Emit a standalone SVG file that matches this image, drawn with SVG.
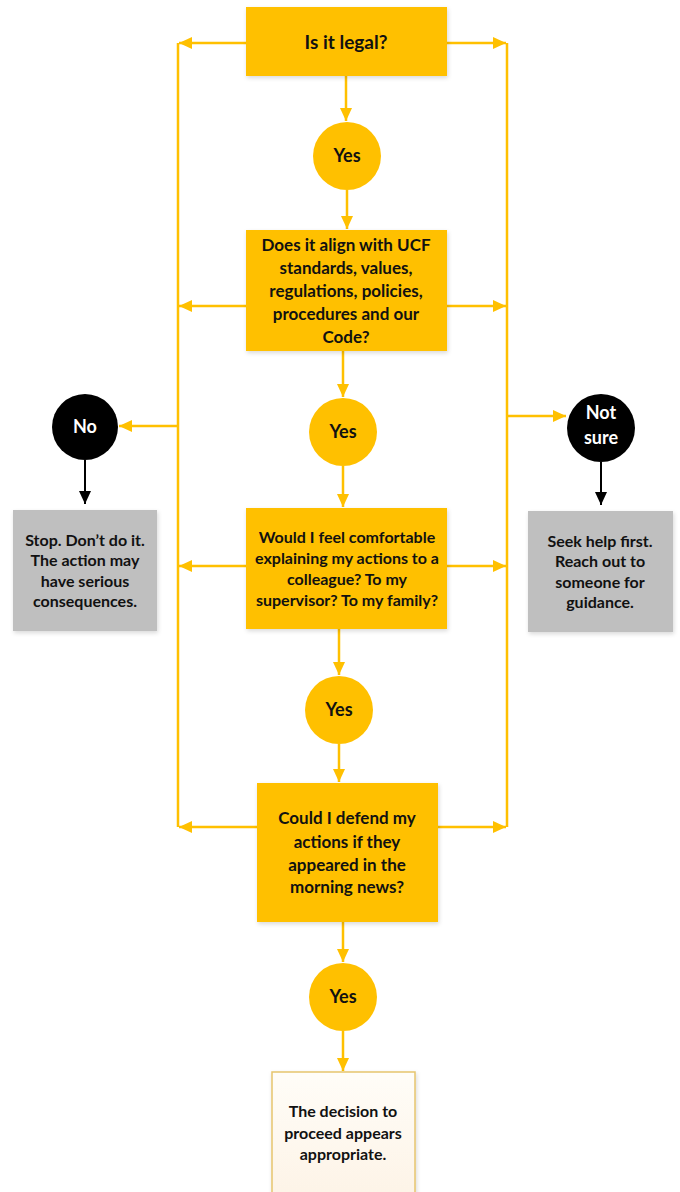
<svg xmlns="http://www.w3.org/2000/svg" width="680" height="1192" viewBox="0 0 680 1192">
<style>
.gold{fill:#FFC000}
.grey{fill:#BFBFBF}
.blk{fill:#000}
.t{font-family:Lato,"Open Sans","Liberation Sans",sans-serif;font-weight:bold;text-anchor:middle;fill:#111}
.q{font-size:17px}
.s{font-size:16px}
.h{font-size:19px}
.g{font-size:16px}
.c{font-size:18px}
.w{fill:#fff}
.ln{stroke:#FFC000;stroke-width:2.5;fill:none}
.bl{stroke:#000;stroke-width:2;fill:none}
</style>
<defs>
<marker id="ag" markerUnits="userSpaceOnUse" markerWidth="14" markerHeight="14" viewBox="0 0 14 14" refX="13" refY="7" orient="auto">
<path d="M0,1 L13,7 L0,13 Z" fill="#FFC000"/>
</marker>
<marker id="ab" markerUnits="userSpaceOnUse" markerWidth="14" markerHeight="14" viewBox="0 0 14 14" refX="13" refY="7" orient="auto">
<path d="M0,1 L13,7 L0,13 Z" fill="#000"/>
</marker>
<linearGradient id="cream" x1="0" y1="0" x2="0" y2="1">
<stop offset="0" stop-color="#FFFDF8"/>
<stop offset="1" stop-color="#FDF3E6"/>
</linearGradient>
<filter id="sh" x="-10%" y="-10%" width="125%" height="125%">
<feDropShadow dx="1" dy="2" stdDeviation="2" flood-color="#000" flood-opacity="0.15"/>
</filter>
</defs>
<rect width="680" height="1192" fill="#fff"/>

<g id="connectors">
<line class="ln" x1="178" y1="43" x2="178" y2="827"/>
<line class="ln" x1="507" y1="43" x2="507" y2="827"/>
<line class="ln" x1="246" y1="43" x2="179" y2="43" marker-end="url(#ag)"/>
<line class="ln" x1="447" y1="43" x2="506" y2="43" marker-end="url(#ag)"/>
<line class="ln" x1="246" y1="306" x2="179" y2="306" marker-end="url(#ag)"/>
<line class="ln" x1="447" y1="306" x2="506" y2="306" marker-end="url(#ag)"/>
<line class="ln" x1="246" y1="566" x2="179" y2="566" marker-end="url(#ag)"/>
<line class="ln" x1="447" y1="566" x2="506" y2="566" marker-end="url(#ag)"/>
<line class="ln" x1="257" y1="827" x2="179" y2="827" marker-end="url(#ag)"/>
<line class="ln" x1="438" y1="827" x2="506" y2="827" marker-end="url(#ag)"/>
<line class="ln" x1="178" y1="426" x2="119" y2="426" stroke-width="3" marker-end="url(#ag)"/>
<line class="ln" x1="507" y1="416" x2="566" y2="416" marker-end="url(#ag)"/>
<line class="ln" x1="346" y1="76" x2="346" y2="121" marker-end="url(#ag)"/>
<line class="ln" x1="347" y1="190" x2="347" y2="229" marker-end="url(#ag)"/>
<line class="ln" x1="343" y1="351" x2="343" y2="397" marker-end="url(#ag)"/>
<line class="ln" x1="343" y1="466" x2="343" y2="507" marker-end="url(#ag)"/>
<line class="ln" x1="339" y1="629" x2="339" y2="675" marker-end="url(#ag)"/>
<line class="ln" x1="339" y1="744" x2="339" y2="782" marker-end="url(#ag)"/>
<line class="ln" x1="343" y1="922" x2="343" y2="962" marker-end="url(#ag)"/>
<line class="ln" x1="343" y1="1031" x2="343" y2="1071" marker-end="url(#ag)"/>
<line class="bl" x1="85" y1="460" x2="85" y2="504" marker-end="url(#ab)"/>
<line class="bl" x1="601" y1="462" x2="601" y2="505" marker-end="url(#ab)"/>
</g>

<g id="q1">
<rect class="gold" x="246" y="7" width="201" height="69" filter="url(#sh)"/>
<text class="t h" x="346" y="49">Is it legal?</text>
</g>
<g id="yes1">
<circle class="gold" cx="347" cy="156" r="34"/>
<text class="t c" x="347" y="162">Yes</text>
</g>
<g id="q2">
<rect class="gold" x="246" y="230" width="201" height="121" filter="url(#sh)"/>
<text class="t q" x="346" y="251">Does it align with UCF</text>
<text class="t q" x="346" y="274">standards, values,</text>
<text class="t q" x="346" y="297">regulations, policies,</text>
<text class="t q" x="346" y="320">procedures and our</text>
<text class="t q" x="346" y="343">Code?</text>
</g>
<g id="yes2">
<circle class="gold" cx="343" cy="432" r="34"/>
<text class="t c" x="343" y="438">Yes</text>
</g>
<g id="no">
<circle class="blk" cx="85" cy="427" r="33"/>
<text class="t c w" x="85" y="433">No</text>
</g>
<g id="stop">
<rect class="grey" x="13" y="510" width="144" height="121" filter="url(#sh)"/>
<text class="t g" x="85" y="546">Stop. Don’t do it.</text>
<text class="t g" x="85" y="566">The action may</text>
<text class="t g" x="85" y="587">have serious</text>
<text class="t g" x="85" y="607">consequences.</text>
</g>
<g id="notsure">
<circle class="blk" cx="601" cy="428" r="34"/>
<text class="t c w" x="601" y="419">Not</text>
<text class="t c w" x="601" y="444">sure</text>
</g>
<g id="seekhelp">
<rect class="grey" x="528" y="511" width="145" height="121" filter="url(#sh)"/>
<text class="t g" x="600" y="547">Seek help first.</text>
<text class="t g" x="600" y="567">Reach out to</text>
<text class="t g" x="600" y="588">someone for</text>
<text class="t g" x="600" y="608">guidance.</text>
</g>
<g id="q3">
<rect class="gold" x="246" y="508" width="201" height="121" filter="url(#sh)"/>
<text class="t s" x="347" y="543">Would I feel comfortable</text>
<text class="t s" x="347" y="564">explaining my actions to a</text>
<text class="t s" x="347" y="585">colleague? To my</text>
<text class="t s" x="347" y="606">supervisor? To my family?</text>
</g>
<g id="yes3">
<circle class="gold" cx="339" cy="710" r="34"/>
<text class="t c" x="339" y="716">Yes</text>
</g>
<g id="q4">
<rect class="gold" x="257" y="783" width="181" height="139" filter="url(#sh)"/>
<text class="t q" x="347" y="824">Could I defend my</text>
<text class="t q" x="347" y="848">actions if they</text>
<text class="t q" x="347" y="871">appeared in the</text>
<text class="t q" x="347" y="893">morning news?</text>
</g>
<g id="yes4">
<circle class="gold" cx="343" cy="997" r="34"/>
<text class="t c" x="343" y="1003">Yes</text>
</g>
<g id="decision">
<rect x="272" y="1072" width="143" height="130" fill="url(#cream)" stroke="#E6C56E" stroke-width="1.5" filter="url(#sh)"/>
<text class="t g" x="343" y="1117">The decision to</text>
<text class="t g" x="343" y="1139">proceed appears</text>
<text class="t g" x="343" y="1160">appropriate.</text>
</g>
</svg>
